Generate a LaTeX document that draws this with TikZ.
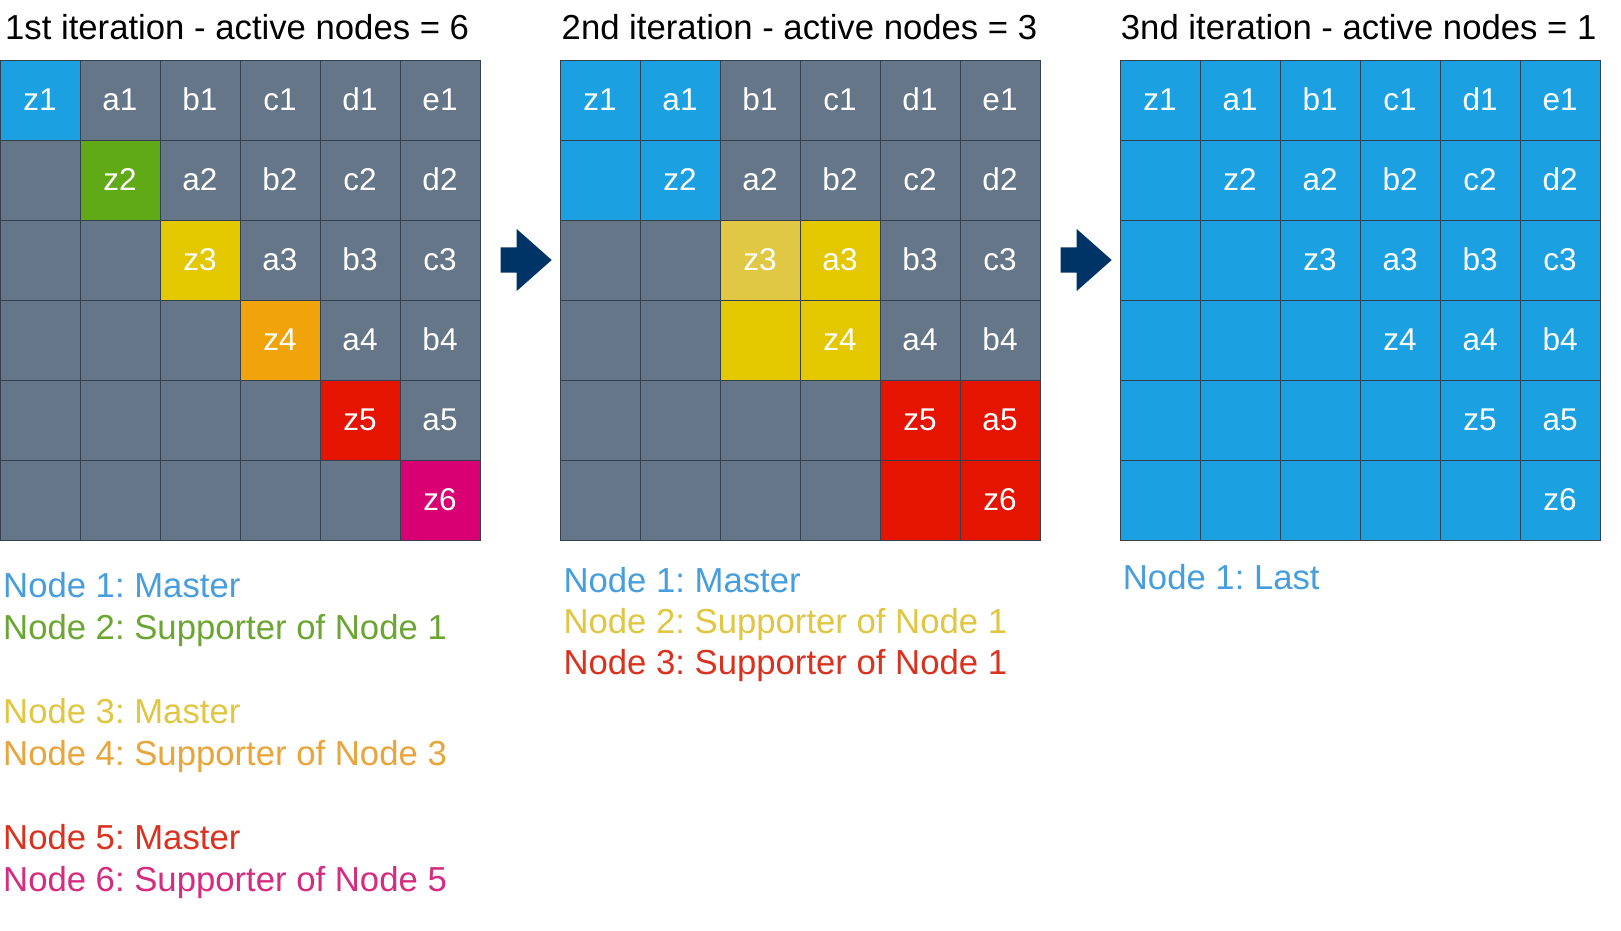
\documentclass[tikz,border=0pt]{standalone}
\usepackage{fontspec}
\setmainfont{Liberation Sans}
\frenchspacing
\definecolor{cgray}{HTML}{647687}
\definecolor{cstroke}{HTML}{34404E}
\definecolor{cblue}{HTML}{1BA1E2}
\definecolor{cgreen}{HTML}{60A917}
\definecolor{cyellow}{HTML}{E3C800}
\definecolor{cyellowl}{HTML}{E0C844}
\definecolor{corange}{HTML}{F0A30A}
\definecolor{cred}{HTML}{E51400}
\definecolor{cmagenta}{HTML}{D80073}
\definecolor{carrow}{HTML}{003366}
\definecolor{lblue}{HTML}{479EDF}
\definecolor{lgreen}{HTML}{6BA632}
\definecolor{lyellow}{HTML}{E0C641}
\definecolor{lorange}{HTML}{E9A43A}
\definecolor{lred}{HTML}{D9331F}
\definecolor{lmagenta}{HTML}{D42C80}
\newcommand\celltext[2]{\ifnum#2<#1\relax\else\ifcase\numexpr#2-#1\relax z\or a\or b\or c\or d\or e\fi\the\numexpr#1+1\relax\fi}
\begin{document}
\begin{tikzpicture}[x=1pt,y=-1pt,
  cell/.style={draw=cstroke, line width=1pt, minimum size=80pt, inner sep=0pt,
    text height=20pt, text depth=0pt, text=white, anchor=center,
    font=\fontsize{31.5}{31.5}\selectfont},
  ttl/.style={anchor=base west, inner sep=0pt, text=black, font=\fontsize{34.7}{34.7}\selectfont},
  lgd/.style={anchor=base west, inner sep=0pt, font=\fontsize{34.7}{34.7}\selectfont},
  blockarrow/.style={fill=carrow, draw=none}]
\useasboundingbox (0,0) rectangle (1621,930);
\fill[white] (0,0) rectangle (1621,930);
% Grid 1
\foreach \R in {0,...,5}{
  \foreach \C in {0,...,5}{
    \def\cc{cgray}
    \ifnum\R=\C\relax
      \ifcase\R\relax \def\cc{cblue}\or\def\cc{cgreen}\or\def\cc{cyellow}\or\def\cc{corange}\or\def\cc{cred}\or\def\cc{cmagenta}\fi
    \fi
    \node[cell, fill=\cc] (A-\R-\C) at ({40+80*\C},{100+80*\R}) {\celltext{\R}{\C}};
  }
}
% Grid 2
\foreach \R in {0,...,5}{
  \foreach \C in {0,...,5}{
    \def\cc{cgray}
    \pgfmathtruncatemacro\br{floor(\R/2)}
    \pgfmathtruncatemacro\bc{floor(\C/2)}
    \ifnum\br=\bc\relax
      \ifcase\br\relax \def\cc{cblue}\or\def\cc{cyellow}\or\def\cc{cred}\fi
    \fi
    \ifnum\R=2\relax\ifnum\C=2\relax\def\cc{cyellowl}\fi\fi
    \node[cell, fill=\cc] (B-\R-\C) at ({600+80*\C},{100+80*\R}) {\celltext{\R}{\C}};
  }
}
% Grid 3
\foreach \R in {0,...,5}{
  \foreach \C in {0,...,5}{
    \node[cell, fill=cblue] (C-\R-\C) at ({1160+80*\C},{100+80*\R}) {\celltext{\R}{\C}};
  }
}
% Block arrows
\foreach \dx in {0,560}{
  \fill[blockarrow] ({500.7+\dx},247.3) -- ({516.7+\dx},247.3) -- ({516.7+\dx},229) -- ({551.7+\dx},260)
    -- ({516.7+\dx},291) -- ({516.7+\dx},272.7) -- ({500.7+\dx},272.7) -- cycle;
}
% Titles
\node[ttl] (t1) at (5,39.3) {1st iteration - active nodes = 6};
\node[ttl] (t2) at (561.5,39.3) {2nd iteration - active nodes = 3};
\node[ttl] (t3) at (1120.7,39.3) {3nd iteration - active nodes = 1};
% Legend 1
\node[lgd, text=lblue] (l11) at (3,597.3) {Node 1: Master};
\node[lgd, text=lgreen] (l12) at (3,639) {Node 2: Supporter of Node 1};
\node[lgd, text=lyellow] (l13) at (3,723.3) {Node 3: Master};
\node[lgd, text=lorange] (l14) at (3,765) {Node 4: Supporter of Node 3};
\node[lgd, text=lred] (l15) at (3,849.3) {Node 5: Master};
\node[lgd, text=lmagenta] (l16) at (3,891) {Node 6: Supporter of Node 5};
% Legend 2
\node[lgd, text=lblue] (l21) at (563.3,592.3) {Node 1: Master};
\node[lgd, text=lyellow] (l22) at (563.3,633.3) {Node 2: Supporter of Node 1};
\node[lgd, text=lred] (l23) at (563.3,674.3) {Node 3: Supporter of Node 1};
% Legend 3
\node[lgd, text=lblue] (l31) at (1122.7,589.3) {Node 1: Last};
\end{tikzpicture}
\end{document}
